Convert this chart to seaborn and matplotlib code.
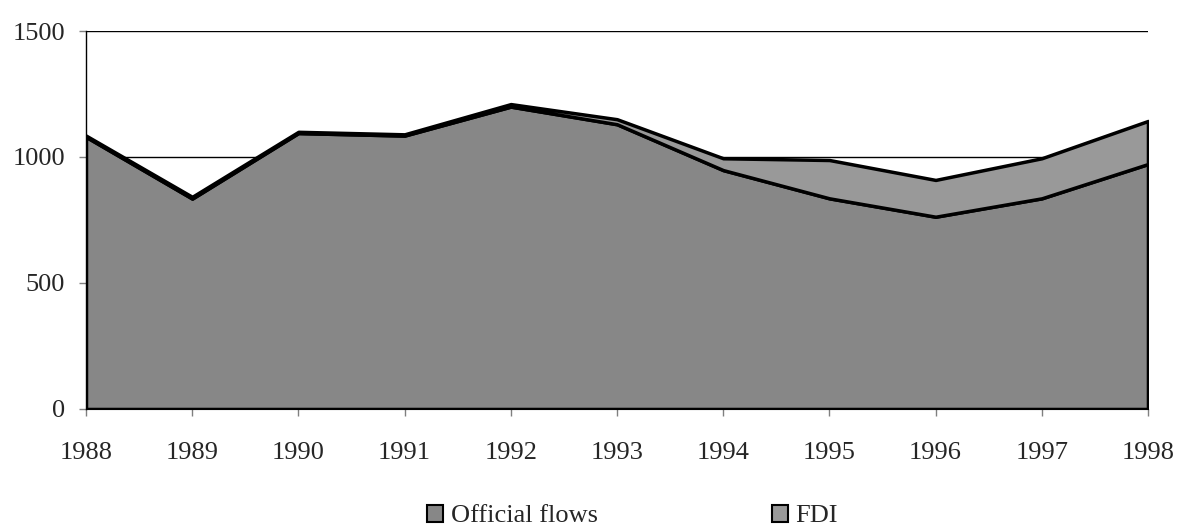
import matplotlib.pyplot as plt
from matplotlib.patches import Patch
import seaborn as sns

# data
years = [1988, 1989, 1990, 1991, 1992, 1993, 1994, 1995, 1996, 1997, 1998]
official_flows = [1080, 835, 1095, 1085, 1200, 1130, 948, 836, 763, 836, 972]
fdi = [5, 7, 5, 5, 10, 20, 47, 152, 146, 159, 171]
series_names = ['Official flows', 'FDI']
colors = ['#878787', '#999999']

sns.set_style('white')
plt.rcParams['font.family'] = ['Liberation Serif', 'DejaVu Serif']

fig = plt.figure(figsize=(11.78, 5.31), dpi=100)
ax = fig.add_axes([0.073, 0.2298, 0.9015, 0.7118])

ax.stackplot(years, official_flows, fdi, colors=colors,
             edgecolor='black', linewidth=2.5, zorder=2)

ax.set_xlim(1988, 1998)
ax.set_ylim(0, 1500)
ax.set_yticks([0, 500, 1000, 1500])
ax.set_xticks(years)
ax.yaxis.grid(True, color='black', linewidth=1.0, zorder=0)
ax.set_axisbelow(True)

for side in ['top', 'right']:
    ax.spines[side].set_visible(False)
ax.spines['left'].set_color('black')
ax.spines['left'].set_linewidth(1.0)
ax.spines['bottom'].set_color('black')

ax.tick_params(axis='both', direction='out', length=5, width=1,
               color='#808080', labelsize=19, left=True, bottom=True)
ax.tick_params(axis='y', pad=10)
ax.tick_params(axis='x', pad=19)

handles = [Patch(facecolor=c, edgecolor='black', linewidth=1.5) for c in colors]
fig.legend(handles, series_names, loc='center', bbox_to_anchor=(0.537, 0.028),
           ncol=2, frameon=False, fontsize=19, handlelength=0.6,
           handleheight=0.6, handletextpad=0.3, columnspacing=6.6,
           borderpad=0)

fig.savefig('out.png', dpi=100)
